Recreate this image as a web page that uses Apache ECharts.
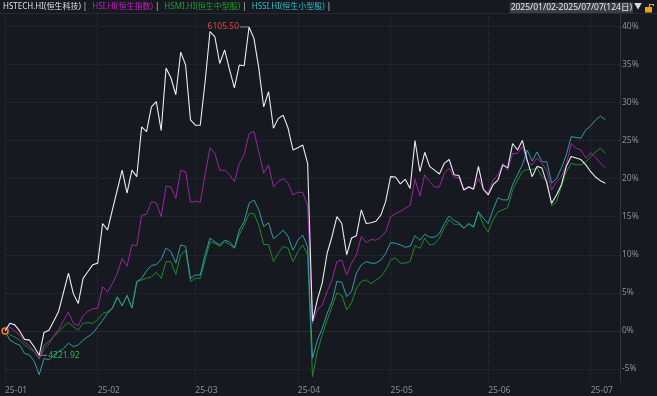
<!DOCTYPE html>
<html><head><meta charset="utf-8">
<script src="https://cdn.jsdelivr.net/npm/echarts@6/dist/echarts.min.js"></script>
<style>html,body{margin:0;padding:0;background:#16191f;}#c{width:657px;height:396px;}</style>
</head><body><div id="c"></div>
<script>
const dates = [
'2025-01-02','2025-01-03','2025-01-06','2025-01-07','2025-01-08','2025-01-09','2025-01-10','2025-01-13','2025-01-14','2025-01-15','2025-01-16','2025-01-17','2025-01-20','2025-01-21','2025-01-22','2025-01-23','2025-01-24','2025-01-27','2025-01-28',
'2025-02-03','2025-02-04','2025-02-05','2025-02-06','2025-02-07','2025-02-10','2025-02-11','2025-02-12','2025-02-13','2025-02-14','2025-02-17','2025-02-18','2025-02-19','2025-02-20','2025-02-21','2025-02-24','2025-02-25','2025-02-26','2025-02-27','2025-02-28',
'2025-03-03','2025-03-04','2025-03-05','2025-03-06','2025-03-07','2025-03-10','2025-03-11','2025-03-12','2025-03-13','2025-03-14','2025-03-17','2025-03-18','2025-03-19','2025-03-20','2025-03-21','2025-03-24','2025-03-25','2025-03-26','2025-03-27','2025-03-28','2025-03-31',
'2025-04-01','2025-04-02','2025-04-03','2025-04-07','2025-04-08','2025-04-09','2025-04-10','2025-04-11','2025-04-14','2025-04-15','2025-04-16','2025-04-17','2025-04-22','2025-04-23','2025-04-24','2025-04-25','2025-04-28','2025-04-29','2025-04-30',
'2025-05-02','2025-05-06','2025-05-07','2025-05-08','2025-05-09','2025-05-12','2025-05-13','2025-05-14','2025-05-15','2025-05-16','2025-05-19','2025-05-20','2025-05-21','2025-05-22','2025-05-23','2025-05-26','2025-05-27','2025-05-28','2025-05-29','2025-05-30',
'2025-06-02','2025-06-03','2025-06-04','2025-06-05','2025-06-06','2025-06-09','2025-06-10','2025-06-11','2025-06-12','2025-06-13','2025-06-16','2025-06-17','2025-06-18','2025-06-19','2025-06-20','2025-06-23','2025-06-24','2025-06-25','2025-06-26','2025-06-27','2025-06-30',
'2025-07-02','2025-07-03','2025-07-04','2025-07-07'
];
const hstech = [
0,1.0,0.8,0.0,-1.1,-1.2,-2.1,-3.2,-0.2,0.1,1.3,2.6,5.1,7.6,4.9,3.6,6.9,7.8,8.7,
8.9,14.1,13.25,15.9,18.5,21.1,18.1,21.1,20.25,26.8,26.15,29.4,30.1,26.3,34.5,33.2,31.0,36.6,34.9,27.7,
27.0,27.0,32.7,39.3,38.6,35.1,36.9,34.3,31.9,34.9,34.8,39.9,38.4,34.5,29.4,31.4,26.6,27.9,28.3,26.6,23.75,
24.05,24.4,22.0,1.3,4.1,6.3,10.2,12.4,15.0,14.1,10.0,12.2,12.5,15.9,14.1,14.2,14.4,15.2,17.0,
20.25,20.2,19.3,19.9,18.7,25.0,20.9,23.45,21.6,21.1,20.6,22.0,22.5,20.5,20.4,18.5,18.9,18.6,21.6,18.6,
17.85,19.2,19.8,21.8,21.4,24.6,23.75,25.0,22.4,20.25,21.6,21.4,19.4,16.75,17.85,19.2,21.6,22.9,22.7,22.5,21.8,
20.9,20.2,19.7,19.4
];
const hsi = [
0,0.5,0.0,-0.5,-1.5,-1.9,-2.7,-3.7,-2.4,-1.7,-0.6,0.2,1.4,2.5,1.0,0.7,2.0,2.6,2.9,
3.0,5.8,5.1,6.2,7.6,9.5,8.5,11.3,11.2,15.2,15.3,17.0,16.8,15.0,19.0,18.9,17.4,21.1,20.9,16.9,
17.0,16.9,20.5,24.05,23.3,21.1,21.1,20.5,19.6,22.0,23.1,25.9,26.2,23.5,20.7,21.8,18.9,19.6,20.0,19.4,17.85,
18.2,18.2,16.4,1.0,2.8,3.4,5.2,6.7,9.1,9.3,7.35,8.9,10.0,12.4,11.6,12.0,11.9,12.3,13.0,
15.0,15.4,15.7,16.1,16.5,19.9,17.7,20.5,19.6,18.9,18.9,20.7,21.35,20.2,20.1,18.6,19.0,18.7,20.0,18.6,
18.1,19.8,20.5,22.0,21.1,23.3,23.3,24.2,22.2,21.8,22.7,22.0,21.1,18.5,19.6,20.25,21.8,24.6,24.0,23.75,22.7,
23.4,22.8,22.0,21.4
];
const hsmi = [
0,-0.5,-0.8,-1.2,-1.85,-2.3,-2.7,-3.6,-1.85,-1.4,-0.75,-0.1,0.56,1.1,0.56,0.13,1.0,1.1,1.0,
1.5,2.3,2.5,3.0,4.4,3.3,4.6,3.0,6.4,6.7,6.9,7.1,7.7,6.9,9.1,9.1,7.4,10.0,10.6,6.5,
6.9,6.9,9.3,11.7,11.5,11.1,11.7,11.35,10.85,12.6,13.9,15.4,15.4,13.9,11.35,11.35,9.1,10.2,11.1,10.85,9.1,
10.4,11.3,10.0,-6.0,-2.7,-0.5,1.4,3.2,5.0,4.7,2.76,3.7,5.6,6.5,6.7,6.2,6.7,7.1,8.0,
9.3,9.6,8.9,8.9,9.1,11.2,10.85,12.2,11.3,11.4,12.2,13.5,14.6,14.0,14.0,13.5,14.0,13.6,15.65,13.9,
13.0,14.6,15.65,15.9,16.2,18.5,19.8,20.9,21.2,21.2,21.4,20.25,19.8,16.4,16.95,19.0,20.9,22.0,21.8,21.8,22.2,
22.9,23.5,24.0,23.3
];
const hssi = [
0,-1.2,-1.6,-1.85,-2.95,-3.15,-4.0,-5.75,-3.6,-3.8,-3.15,-2.7,-2.3,-1.6,-2.05,-1.85,-1.2,-0.75,-0.3,
0.56,1.4,2.3,3.0,4.5,3.3,4.7,3.0,6.5,6.9,7.9,8.6,8.7,9.4,10.9,10.4,8.9,11.3,11.1,6.9,
7.35,7.35,10.0,12.2,11.7,11.3,11.9,11.7,10.9,13.25,14.35,16.75,17.2,15.9,13.7,14.2,12.1,12.6,13.25,12.4,10.6,
11.9,12.6,11.0,-3.6,-1.2,0.35,2.3,3.85,6.5,6.4,4.5,5.2,7.6,8.66,9.1,8.9,8.9,9.3,10.2,
11.6,11.5,11.3,11.0,11.1,12.5,11.9,12.7,12.3,12.3,12.8,14.1,15.1,14.5,14.2,13.5,14.1,13.7,15.65,14.8,
14.1,15.9,17.5,17.2,17.2,19.2,20.5,21.8,23.75,22.3,23.5,22.2,22.2,19.4,20.0,21.4,23.1,25.5,25.4,25.3,26.4,
26.9,27.7,28.2,27.7
];
const seriesNames = ['HSTECH.HI(恒生科技)', 'HSI.HI(恒生指数)', 'HSMI.HI(恒生中型股)', 'HSSI.HI(恒生小型股)'];
const yTicks = [-5, 0, 5, 10, 15, 20, 25, 30, 35, 40];
const hstechHigh = '6105.50';
const hstechLow = '4221.92';
const rangeLabel = '2025/01/02-2025/07/07(124日)';

const BG = '#16191f';
const FONT = '"Noto Sans", "Noto Sans CJK SC", sans-serif';
const lineColors = ['#ececec', '#9c25a3', '#1d8a2c', '#2f9ca7'];
const legendColors = ['#e0e0e0', '#c81ec8', '#1fa02a', '#35bfcc'];
const monthStart = (idx) => idx < dates.length && (idx === 0 || dates[idx].slice(5, 7) !== dates[idx - 1].slice(5, 7));

const chart = echarts.init(document.getElementById('c'), null, {renderer: 'canvas'});
const seriesData = [hstech, hsi, hsmi, hssi];
const zs = [6, 5, 3, 4];

const series = seriesData.map((d, i) => {
  const s = {
    name: seriesNames[i], type: 'line', data: d, symbol: 'none', showSymbol: false,
    lineStyle: {width: i === 0 ? 1.1 : 1, color: lineColors[i]}, itemStyle: {color: lineColors[i]},
    z: zs[i], animation: false, clip: false
  };
  if (i === 0) {
    s.markPoint = {
      animation: false,
      data: [
        {type: 'max', symbol: 'rect', symbolSize: [9, 1], symbolOffset: ['-50%', 0],
         itemStyle: {color: '#8a8a8a'},
         label: {show: true, position: 'left', distance: 1, formatter: hstechHigh, color: '#e04646', fontSize: 8.5, fontFamily: FONT}},
        {type: 'min', symbol: 'rect', symbolSize: [8, 1], symbolOffset: ['50%', 0],
         itemStyle: {color: '#8a8a8a'},
         label: {show: true, position: 'right', distance: 1, formatter: hstechLow, color: '#2fb54c', fontSize: 8.5, fontFamily: FONT}},
        {coord: [0, hstech[0]], symbol: 'circle', symbolSize: 6,
         itemStyle: {color: BG, borderColor: '#ff7a1a', borderWidth: 1.5}, label: {show: false}}
      ]
    };
  }
  return s;
});

chart.setOption({
  backgroundColor: BG,
  animation: false,
  textStyle: {fontFamily: FONT},
  title: {
    text: rangeLabel, right: 24, top: 2.5, padding: [1, 1],
    backgroundColor: '#3b3e46',
    textStyle: {fontSize: 8.5, color: '#e8e8e8', fontWeight: 'normal', fontFamily: FONT}
  },
  legend: {
    left: -2, top: 3, icon: 'none', itemWidth: 0, itemHeight: 8, itemGap: 0, padding: 0,
    selectedMode: false,
    data: seriesNames.map((n, i) => ({name: n, textStyle: {color: legendColors[i]}})),
    formatter: (n) => '{n|' + n + '} {s||}',
    textStyle: {fontSize: 8, fontFamily: FONT, rich: {n: {fontSize: 8}, s: {color: '#cfcfcf', fontSize: 8}}}
  },
  grid: {left: 5, right: 37, top: 14, bottom: 14, containLabel: false},
  xAxis: {
    type: 'category', data: dates, boundaryGap: false, max: 126,
    axisLine: {show: true, lineStyle: {color: '#2a2e35', type: 'dotted'}},
    axisTick: {show: false},
    axisLabel: {
      interval: (idx) => monthStart(idx), align: 'left', margin: 4, fontSize: 8.5, color: '#8e8e8e',
      fontFamily: FONT, formatter: (v) => (v ? v.slice(2, 7) : '')
    },
    splitLine: {show: true, interval: (idx) => monthStart(idx), lineStyle: {color: '#2a2e35', type: 'dotted', width: 1}}
  },
  yAxis: {
    type: 'value', position: 'right', min: -6.7, max: 41.6, scale: true,
    axisLine: {show: true, lineStyle: {color: '#30343b'}},
    axisTick: {show: false, customValues: yTicks},
    axisLabel: {customValues: yTicks, margin: 2, fontSize: 8.5, color: '#8e8e8e', fontFamily: FONT, formatter: (v) => v + '%'},
    splitLine: {show: true, lineStyle: {color: '#2a2e35', type: 'dotted', width: 1}}
  },
  graphic: [
    {type: 'line', shape: {x1: 0, y1: 13.5, x2: 657, y2: 13.5}, style: {stroke: '#262a31', lineWidth: 1}, z: 0, silent: true},
    {type: 'text', x: 634, y: 3, style: {text: '▼', fill: '#d8d8d8', fontSize: 8, fontFamily: FONT}},
    {type: 'rect', shape: {x: 645, y: 7, width: 7, height: 5.5}, style: {fill: '#eba21c'}},
    {type: 'polyline', shape: {points: [[649.5, 7], [649.5, 4.5], [653.5, 4.5], [653.5, 6]]}, style: {stroke: '#eba21c', fill: null, lineWidth: 1.2}}
  ],
  series: series
});
</script>
</body></html>
